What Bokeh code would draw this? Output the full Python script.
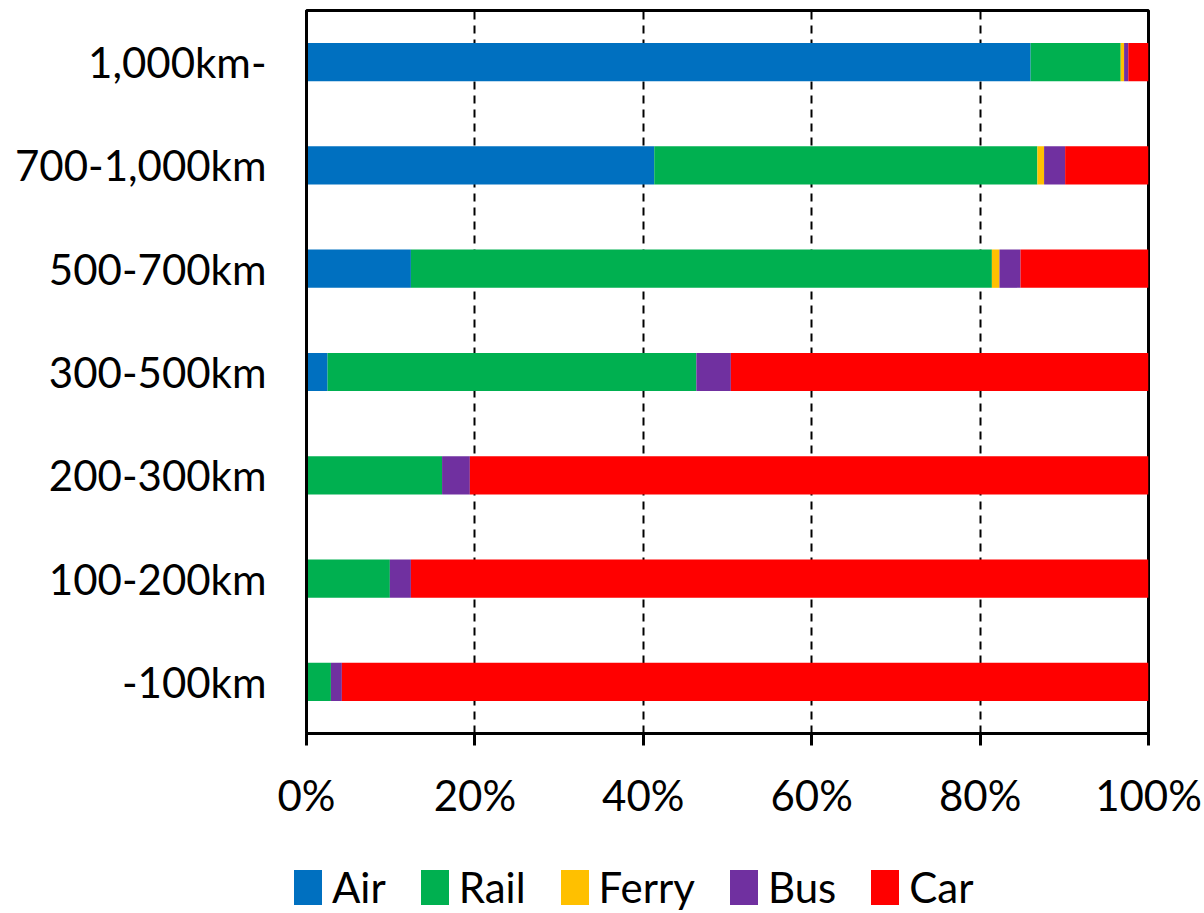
from bokeh.plotting import figure
from bokeh.models import (ColumnDataSource, FactorRange, Range1d, FixedTicker,
                          NumeralTickFormatter, Legend, LegendItem)
from bokeh.embed import file_html
from bokeh.resources import INLINE

# Distance bands, top to bottom as shown
distances = ["1,000km-", "700-1,000km", "500-700km", "300-500km",
             "200-300km", "100-200km", "-100km"]
modes = ["Air", "Rail", "Ferry", "Bus", "Car"]
colors = ["#0070C0", "#00B050", "#FFC000", "#7030A0", "#FF0000"]

# Share (%) for each distance band (same order as distances)
air   = [86.0, 41.3, 12.4, 2.5, 0.0, 0.0, 0.0]
rail  = [10.7, 45.5, 69.0, 43.8, 16.1, 9.9, 2.9]
ferry = [0.4, 0.8, 0.9, 0.0, 0.0, 0.0, 0.0]
bus   = [0.5, 2.5, 2.5, 4.1, 3.3, 2.5, 1.3]
car   = [2.4, 9.9, 15.2, 49.6, 80.6, 87.6, 95.8]

x_ticks = [0, 0.2, 0.4, 0.6, 0.8, 1.0]

src = ColumnDataSource(dict(
    dist=distances,
    Air=[v / 100 for v in air],
    Rail=[v / 100 for v in rail],
    Ferry=[v / 100 for v in ferry],
    Bus=[v / 100 for v in bus],
    Car=[v / 100 for v in car],
))

FONT = "Lato"
FS = "42px"

p = figure(frame_width=842, frame_height=723, output_backend="svg", toolbar_location=None,
           y_range=FactorRange(*list(reversed(distances)), range_padding=0),
           x_range=Range1d(0, 1))
p.min_border_left = 306
p.min_border_right = 56
p.min_border_top = 10
p.min_border_bottom = 84

p.hbar_stack(modes, y="dist", height=0.37, color=colors, source=src, line_color=None)

# Axes
p.xaxis.ticker = FixedTicker(ticks=x_ticks)
p.xaxis.formatter = NumeralTickFormatter(format="0%")
p.xaxis.axis_line_width = 3
p.xaxis.axis_line_color = "black"
p.xaxis.major_tick_line_width = 3
p.xaxis.major_tick_line_color = "black"
p.xaxis.major_tick_out = 12
p.xaxis.major_tick_in = 0
p.xaxis.minor_tick_line_color = None
p.xaxis.major_label_standoff = 24
p.yaxis.axis_line_width = 3
p.yaxis.axis_line_color = "black"
p.yaxis.major_tick_line_color = None
p.yaxis.major_tick_out = 0
p.yaxis.major_tick_in = 0
p.yaxis.minor_tick_line_color = None
p.yaxis.major_label_standoff = 40
for ax in (p.xaxis, p.yaxis):
    ax.major_label_text_font = FONT
    ax.major_label_text_font_size = FS
    ax.major_label_text_color = "black"

# Grid
p.ygrid.grid_line_color = None
p.xgrid.ticker = FixedTicker(ticks=x_ticks)
p.xgrid.grid_line_color = "black"
p.xgrid.grid_line_width = 2
p.xgrid.grid_line_dash = "8 6"

p.outline_line_color = "black"
p.outline_line_width = 3
p.background_fill_color = "white"
p.border_fill_color = "white"

# Legend strip below the chart (legend swatches come from hidden copies of the series)
lg = figure(width=1204, height=96, output_backend="svg", toolbar_location=None,
            x_range=Range1d(0, 1), y_range=FactorRange(*distances),
            min_border=0, outline_line_color=None)
lg.axis.visible = False
lg.grid.visible = False
lg_renderers = lg.hbar_stack(modes, y="dist", height=0.37, color=colors,
                             source=src, line_color=None)
for r in lg_renderers:
    r.visible = False
legend = Legend(items=[LegendItem(label=m, renderers=[r]) for m, r in zip(modes, lg_renderers)],
                orientation="horizontal", location=(290, 6), click_policy="none",
                glyph_width=35, glyph_height=44, label_standoff=7, spacing=31,
                label_text_font=FONT, label_text_font_size=FS,
                label_text_color="black", border_line_color=None,
                background_fill_alpha=0, margin=0, padding=0)
lg.add_layout(legend, "center")

open("out.html", "w").write(file_html([p, lg], INLINE))
